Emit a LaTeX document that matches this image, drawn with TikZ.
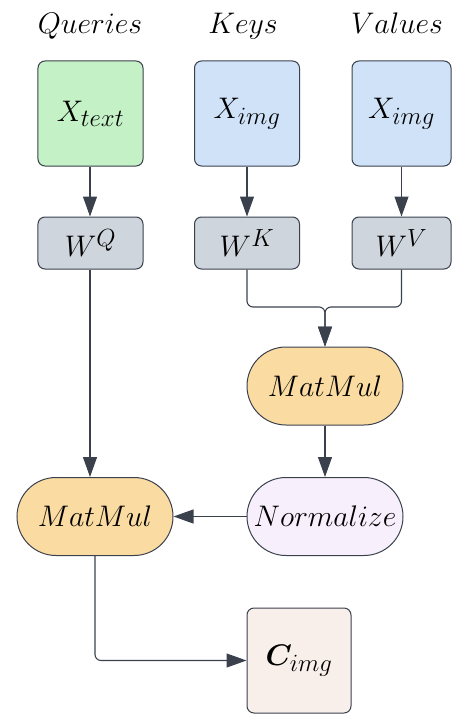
\documentclass[tikz,border=0pt]{standalone}
\usepackage{bm}
\usetikzlibrary{arrows.meta}
\definecolor{cgreen}{HTML}{C4F1C6}
\definecolor{cblue}{HTML}{CFE2F8}
\definecolor{cgray}{HTML}{CFD5DD}
\definecolor{corange}{HTML}{FADBA2}
\definecolor{clav}{HTML}{F7EFFC}
\definecolor{cpink}{HTML}{F9EFEA}
\definecolor{cedge}{HTML}{3A414D}
\newcommand\mth[1]{\scalebox{1.2}{\Huge$#1$}}
\begin{document}
\begin{tikzpicture}[x=1bp,y=-1bp,
  box/.style={draw=cedge, line width=1bp, rounded corners=7bp, inner sep=0pt},
  pill/.style={draw=cedge, line width=1bp, rounded corners=39bp, inner sep=0pt, minimum width=156bp, minimum height=78bp},
  arr/.style={draw=cedge, line width=1.1bp, -{Triangle[length=20bp,width=14bp]}},
  title/.style={inner sep=0pt, anchor=base}]
\useasboundingbox (0,0) rectangle (452,714);
% titles
\node[title] (tq) at (90,34) {\mth{Queries}};
\node[title] (tk) at (243,34) {\mth{Keys}};
\node[title] (tv) at (397,34) {\mth{Values}};
% input boxes
\node[box, fill=cgreen, minimum width=105bp, minimum height=105bp] (xt) at (90.5,113.5) {\mth{X_{text}}};
\node[box, fill=cblue, minimum width=105bp, minimum height=105bp] (xk) at (247,113.5) {\mth{X_{img}}};
\node[box, fill=cblue, minimum width=99bp, minimum height=105bp] (xv) at (401.5,113.5) {\mth{X_{img}}};
% weight boxes
\node[box, fill=cgray, minimum width=105bp, minimum height=52bp] (wq) at (90.5,243) {\mth{W^{Q}}};
\node[box, fill=cgray, minimum width=105bp, minimum height=52bp] (wk) at (247,243) {\mth{W^{K}}};
\node[box, fill=cgray, minimum width=99bp, minimum height=52bp] (wv) at (401.5,243) {\mth{W^{V}}};
% operations
\node[pill, fill=corange] (mm1) at (325,386) {\mth{MatMul}};
\node[pill, fill=clav] (nm) at (325,516.5) {\mth{Normalize}};
\node[pill, fill=corange] (mm2) at (95,516.5) {\mth{MatMul}};
\node[box, fill=cpink, minimum width=104bp, minimum height=105bp] (c) at (299,660.5) {\mth{\bm{C}_{img}}};
\coordinate (j) at (325,307);
% connectors
\draw[arr] (xt.south -| 90,0) -- (wq.north -| 90,0);
\draw[arr] (xk) -- (wk);
\draw[arr] (xv) -- (wv);
\draw[arr, rounded corners=6bp] (wk.south) |- (j) -- (mm1.north);
\draw[arr, rounded corners=6bp] (wv.south) |- (j) -- (mm1.north);
\draw[arr] (wq.south -| 90,0) -- (mm2.north -| 90,0);
\draw[arr] (mm1) -- (nm);
\draw[arr] (nm) -- (mm2);
\draw[arr, rounded corners=6bp] (mm2.south) |- (c.west);
\end{tikzpicture}
\end{document}
